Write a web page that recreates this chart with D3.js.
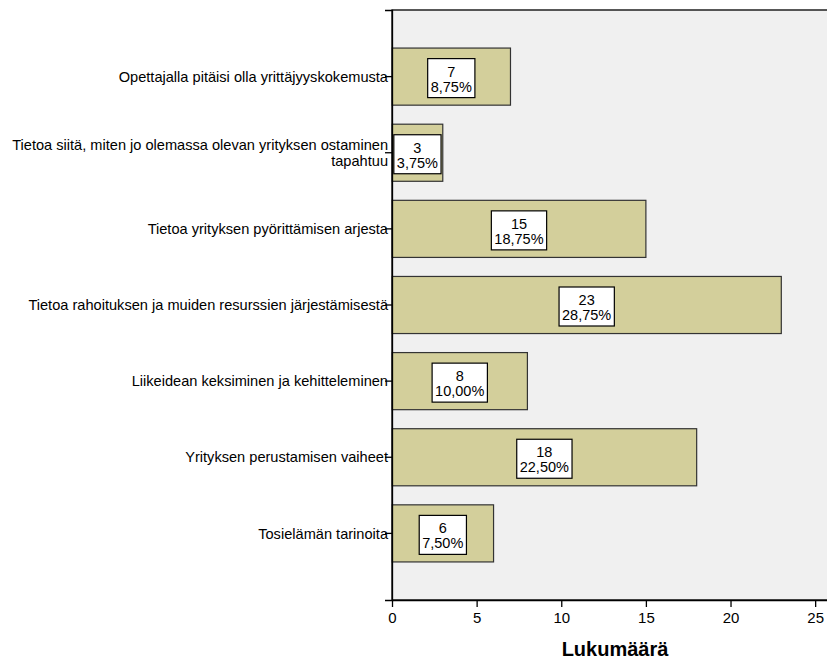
<!DOCTYPE html>
<html>
<head>
<meta charset="utf-8">
<script src="https://cdn.jsdelivr.net/npm/d3@7"></script>
<style>
  body { margin: 0; background: #fff; }
  text { font-family: "Liberation Sans", Arial, sans-serif; }
</style>
</head>
<body>
<div id="chart"></div>
<script>
// category labels (may contain line breaks) and counts
const categories = [
  "Opettajalla pitäisi olla yrittäjyyskokemusta",
  "Tietoa siitä, miten jo olemassa olevan yrityksen ostaminen\ntapahtuu",
  "Tietoa yrityksen pyörittämisen arjesta",
  "Tietoa rahoituksen ja muiden resurssien järjestämisestä",
  "Liikeidean keksiminen ja kehitteleminen",
  "Yrityksen perustamisen vaiheet",
  "Tosielämän tarinoita"
];
const counts = [7, 3, 15, 23, 8, 18, 6];
const percents = ["8,75%", "3,75%", "18,75%", "28,75%", "10,00%", "22,50%", "7,50%"];
const xTicks = [0, 5, 10, 15, 20, 25];

const width = 827, height = 659;
const margin = {top: 10, right: 0, bottom: 59, left: 392};
const plotW = width - margin.left - margin.right;
const plotH = height - margin.top - margin.bottom;

const data = categories.map((c, i) => ({cat: c, n: counts[i], pct: percents[i]}));

const svg = d3.select("#chart").append("svg")
  .attr("width", width)
  .attr("height", height);

const g = svg.append("g")
  .attr("transform", "translate(" + margin.left + "," + margin.top + ")");

const x = d3.scaleLinear()
  .domain([0, 25.7])
  .range([0, plotW]);

const y = d3.scaleBand()
  .domain(categories)
  .range([0, plotH])
  .paddingInner(0.25)
  .paddingOuter(0.5);

// plot background
g.append("rect")
  .attr("x", 0).attr("y", 0)
  .attr("width", plotW + 2).attr("height", plotH)
  .attr("fill", "#f0f0f0")
  .attr("stroke", "#000")
  .attr("stroke-width", 1.3);

// bars
g.selectAll(".bar")
  .data(data)
  .enter().append("rect")
  .attr("class", "bar")
  .attr("x", x(0))
  .attr("y", d => y(d.cat))
  .attr("width", d => x(d.n) - x(0))
  .attr("height", y.bandwidth())
  .attr("fill", "#d3cf9b")
  .attr("stroke", "#333")
  .attr("stroke-width", 1.2);

// value boxes
const lab = g.selectAll(".lab")
  .data(data)
  .enter().append("g")
  .attr("class", "lab")
  .attr("transform", d => "translate(" + x(d.n / 2) + "," + (y(d.cat) + y.bandwidth() / 2) + ")");

lab.append("text")
  .attr("text-anchor", "middle")
  .style("font-size", "14.5px")
  .attr("y", 0)
  .text(d => d.n);
lab.append("text")
  .attr("text-anchor", "middle")
  .style("font-size", "14.5px")
  .attr("y", 15)
  .text(d => d.pct);

lab.each(function() {
  const gg = d3.select(this);
  const bb = this.getBBox();
  gg.insert("rect", "text")
    .attr("x", bb.x - 3)
    .attr("y", -18)
    .attr("width", bb.width + 6)
    .attr("height", 39)
    .attr("fill", "#fff")
    .attr("stroke", "#000")
    .attr("stroke-width", 1.2);
});

// y axis
const yAxis = g.append("g")
  .call(d3.axisLeft(y).tickSize(7).tickPadding(3).tickFormat(""));
yAxis.select(".domain").attr("stroke", "#000").attr("stroke-width", 1.3);
yAxis.selectAll(".tick line").attr("stroke", "#000").attr("stroke-width", 1.3);
yAxis.selectAll(".tick").each(function(d) {
  const lines = d.split("\n");
  const t = d3.select(this).append("text")
    .attr("x", -4)
    .attr("text-anchor", "end")
    .style("font-size", "14.6px")
    .attr("fill", "#000");
  const lh = 16;
  const y0 = -(lines.length - 1) * lh / 2;
  lines.forEach((ln, i) => {
    t.append("tspan")
      .attr("x", -4)
      .attr("y", y0 + i * lh)
      .attr("dy", "0.35em")
      .text(ln);
  });
});

// x axis
const xAxis = g.append("g")
  .attr("transform", "translate(0," + plotH + ")")
  .call(d3.axisBottom(x).tickValues(xTicks).tickSize(7).tickSizeOuter(0).tickPadding(5));
xAxis.select(".domain").attr("stroke", "#000").attr("stroke-width", 1.3);
xAxis.selectAll(".tick line").attr("stroke", "#000").attr("stroke-width", 1.3);
xAxis.selectAll(".tick text")
  .style("font-size", "15px")
  .attr("fill", "#000");

// axis title
svg.append("text")
  .attr("x", 615)
  .attr("y", 656)
  .attr("text-anchor", "middle")
  .style("font-size", "20px")
  .attr("font-weight", "bold")
  .text("Lukumäärä");
</script>
</body>
</html>
